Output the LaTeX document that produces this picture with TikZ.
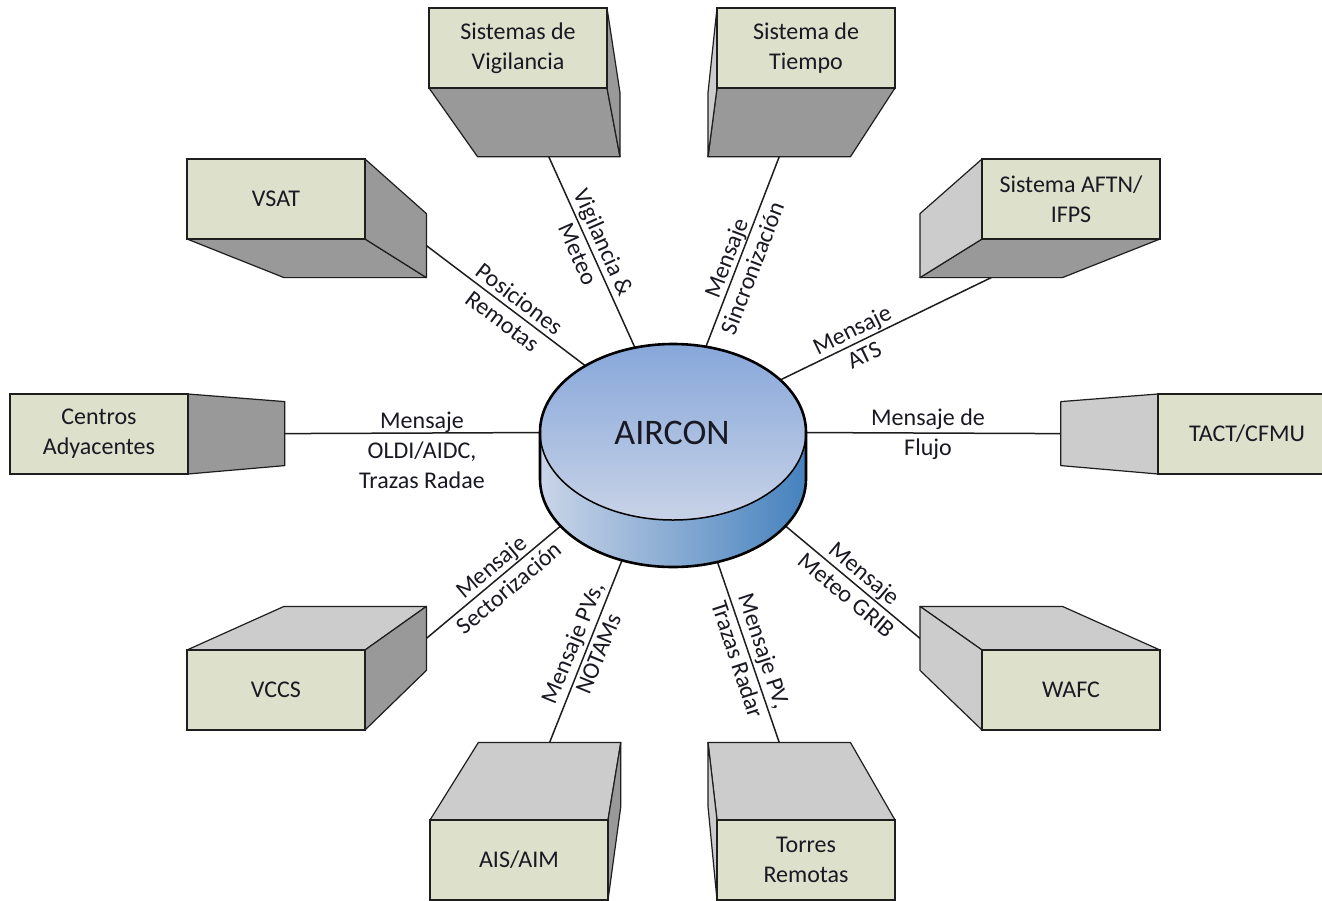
\documentclass[tikz,border=0pt]{standalone}
\usepackage{fontspec}
\setmainfont{Carlito}
\usetikzlibrary{calc}
\definecolor{frontc}{RGB}{221,224,203}
\definecolor{darkc}{RGB}{153,153,153}
\definecolor{lightc}{RGB}{204,204,204}
\definecolor{edgec}{RGB}{30,30,30}
\definecolor{cyltop}{RGB}{135,167,218}
\definecolor{cylbot}{RGB}{200,211,231}
\definecolor{sideL}{RGB}{202,213,232}
\definecolor{sideM}{RGB}{172,192,224}
\definecolor{sideR}{RGB}{70,130,190}
\definecolor{txt}{RGB}{25,25,35}

\tikzset{
  face/.style={draw=edgec, line width=1.2, line join=round},
  frontbox/.style={draw=edgec, line width=1.8, fill=frontc, minimum width=178, minimum height=80, inner sep=0, align=center, text=txt, font=\fontsize{24}{30}\selectfont},
  conn/.style={draw=edgec, line width=1.5},
  lab/.style={align=center, text=txt, inner sep=0, font=\fontsize{24}{28}\selectfont}
}

\newcommand{\mkbox}[4]{%
  \coordinate (#1-ftl) at (#2,#3);
  \coordinate (#1-ftr) at ({#2+178},#3);
  \coordinate (#1-fbl) at (#2,{#3+80});
  \coordinate (#1-fbr) at ({#2+178},{#3+80});
  \coordinate (#1-btl) at ($(V)!0.8!(#1-ftl)$);
  \coordinate (#1-btr) at ($(V)!0.8!(#1-ftr)$);
  \coordinate (#1-bbl) at ($(V)!0.8!(#1-fbl)$);
  \coordinate (#1-bbr) at ($(V)!0.8!(#1-fbr)$);
  \coordinate (#1-eB) at ($(#1-bbl)!0.5!(#1-bbr)$);
  \coordinate (#1-eT) at ($(#1-btl)!0.5!(#1-btr)$);
  \coordinate (#1-eL) at ($(#1-btl)!0.5!(#1-bbl)$);
  \coordinate (#1-eR) at ($(#1-btr)!0.5!(#1-bbr)$);
}
\newcommand{\faceB}[1]{\filldraw[face,fill=darkc] (#1-fbl)--(#1-fbr)--(#1-bbr)--(#1-bbl)--cycle;}
\newcommand{\faceR}[1]{\filldraw[face,fill=darkc] (#1-ftr)--(#1-btr)--(#1-bbr)--(#1-fbr)--cycle;}
\newcommand{\faceL}[1]{\filldraw[face,fill=lightc] (#1-ftl)--(#1-btl)--(#1-bbl)--(#1-fbl)--cycle;}
\newcommand{\faceT}[1]{\filldraw[face,fill=lightc] (#1-ftl)--(#1-ftr)--(#1-btr)--(#1-btl)--cycle;}
\newcommand{\front}[4]{\node[frontbox] (#1) at ({#2+89},{#3+40}) {#4};}

\begin{document}
\begin{tikzpicture}[x=1pt,y=-1pt]
\path[use as bounding box] (0,0) rectangle (1322,900);
\fill[white] (0,0) rectangle (1322,900);
\clip (0,0) rectangle (1322,900);
\coordinate (V) at (672,432);
\coordinate (cyl) at (673,432);

\mkbox{vig}{429}{8}{}
\mkbox{tie}{717}{8}{}
\mkbox{vsat}{187}{159}{}
\mkbox{aftn}{982}{159}{}
\mkbox{cen}{10}{394}{}
\mkbox{tact}{1158}{394}{}
\mkbox{vccs}{187}{650}{}
\mkbox{wafc}{982}{650}{}
\mkbox{ais}{430}{820}{}
\mkbox{tor}{717}{820}{}

% connectors
\draw[conn] (vig-eB) -- (cyl);
\draw[conn] (tie-eB) -- (cyl);
\draw[conn] (vsat-eR) -- (cyl);
\draw[conn] (aftn-eB) -- (cyl);
\draw[conn] (cen-eR) -- (cyl);
\draw[conn] (tact-eL) -- (cyl);
\draw[conn] (vccs-eR) -- (cyl);
\draw[conn] (wafc-eL) -- (cyl);
\draw[conn] (ais-eT) -- (cyl);
\draw[conn] (tor-eT) -- (cyl);

% boxes
\faceB{vig}\faceR{vig}\front{vig}{429}{8}{Sistemas de\\Vigilancia}
\faceB{tie}\faceL{tie}\front{tie}{717}{8}{Sistema de\\Tiempo}
\faceB{vsat}\faceR{vsat}\front{vsat}{187}{159}{VSAT}
\faceB{aftn}\faceL{aftn}\front{aftn}{982}{159}{Sistema AFTN/\\IFPS}
\faceR{cen}\front{cen}{10}{394}{Centros\\Adyacentes}
\faceL{tact}\front{tact}{1158}{394}{TACT/CFMU}
\faceT{vccs}\faceR{vccs}\front{vccs}{187}{650}{VCCS}
\faceT{wafc}\faceL{wafc}\front{wafc}{982}{650}{WAFC}
\faceT{ais}\faceR{ais}\front{ais}{430}{820}{AIS/AIM}
\faceT{tor}\faceL{tor}\front{tor}{717}{820}{Torres\\Remotas}

% cylinder
\fill[left color=sideL, middle color=sideM, right color=sideR]
  (540,432) -- (540,479) arc[start angle=180, end angle=0, x radius=133, y radius=88]
  -- (806,432) arc[start angle=0, end angle=180, x radius=133, y radius=88] -- cycle;
\fill[top color=cyltop, bottom color=cylbot] (cyl) ellipse [x radius=133, y radius=88];
\draw[black, line width=1.5] (806,432) arc[start angle=0, end angle=180, x radius=133, y radius=88];
\draw[black, line width=2.6, line join=round]
  (540,432) -- (540,479) arc[start angle=180, end angle=0, x radius=133, y radius=88]
  -- (806,432) arc[start angle=0, end angle=-180, x radius=133, y radius=88] -- cycle;
\node[text=txt, font=\fontsize{36}{40}\selectfont, inner sep=0] (aircon) at (672,433) {AIRCON};

% labels
\node[lab, rotate=-66] (l1) at (591,248) {Vigilancia \&\\Meteo};
\node[lab, rotate=69] (l2) at (739,263) {Mensaje\\Sincronización};
\node[lab, rotate=-37] (l3) at (511,310) {Posiciones\\Remotas};
\node[lab, rotate=26] (l4) at (858,342) {Mensaje\\ATS};
\node[lab, font=\fontsize{24}{30}\selectfont] (l5) at (422,450) {Mensaje\\OLDI/AIDC,\\Trazas Radae};
\node[lab, font=\fontsize{24}{30}\selectfont] (l6) at (928,434) {Mensaje de\\Flujo};
\node[lab, rotate=40] (l7) at (500,577) {Mensaje\\Sectorización};
\node[lab, rotate=-40] (l8) at (856,584) {Mensaje\\Meteo GRIB};
\node[lab, rotate=67.6] (l9) at (585,648) {Mensaje PVs,\\NOTAMs};
\node[lab, rotate=-71.8] (l10) at (751,655) {Mensaje PV,\\Trazas Radar};
\end{tikzpicture}
\end{document}
